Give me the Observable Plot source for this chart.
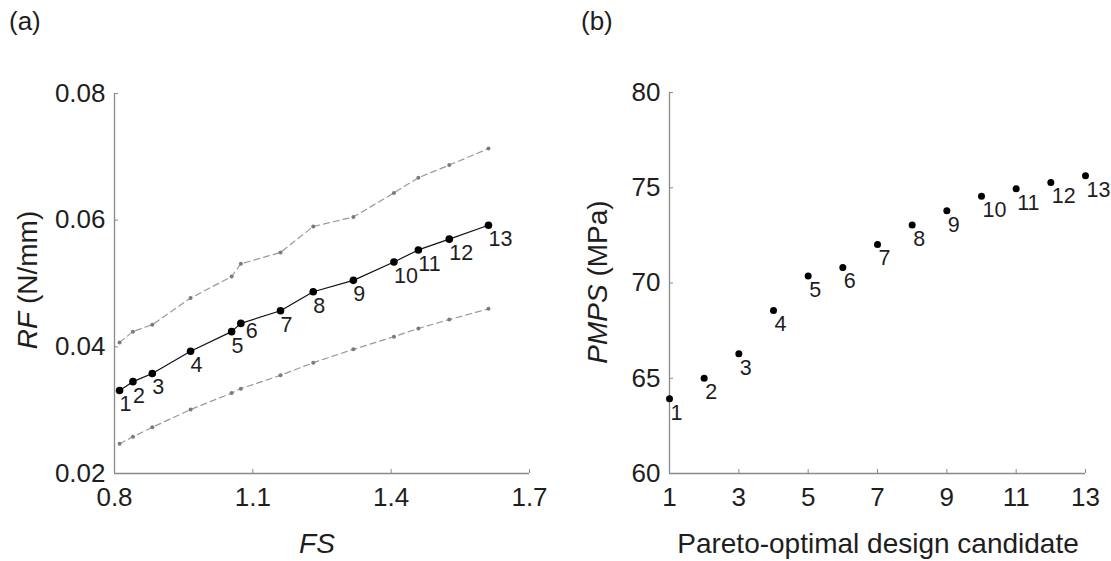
<!DOCTYPE html>
<html>
<head>
<meta charset="utf-8">
<script src="https://cdn.jsdelivr.net/npm/d3@7"></script>
<script src="https://cdn.jsdelivr.net/npm/@observablehq/plot@0.6"></script>
<style>
  html, body { margin: 0; padding: 0; background: #fff; }
  #wrap { position: relative; width: 1111px; height: 561px; font-family: "Liberation Sans", Arial, sans-serif; color: #1e1e1e; overflow: hidden; }
  .pane { position: absolute; top: 0; }
  .lbl { position: absolute; white-space: nowrap; line-height: 1; }
</style>
</head>
<body>
<div id="wrap">
  <div class="lbl" style="left:9px;top:8px;font-size:26px;">(a)</div>
  <div class="lbl" style="left:581px;top:8px;font-size:26px;">(b)</div>
  <div class="lbl" style="left:28px;top:280px;font-size:28px;transform:translate(-50%,-50%) rotate(-90deg);"><i>RF</i> (N/mm)</div>
  <div class="lbl" style="left:598px;top:282px;font-size:28px;transform:translate(-50%,-50%) rotate(-90deg);"><i>PMPS</i> (MPa)</div>
  <div class="lbl" style="left:317px;top:530px;font-size:28px;transform:translateX(-50%);"><i>FS</i></div>
  <div class="lbl" style="left:878px;top:530px;font-size:28px;transform:translateX(-50%);">Pareto-optimal design candidate</div>
  <div id="pa" class="pane" style="left:0px;"></div>
  <div id="pb" class="pane" style="left:555px;"></div>
</div>
<script>
// Panel (a): RF vs FS for the 13 Pareto-optimal candidates
const candidates = [1, 2, 3, 4, 5, 6, 7, 8, 9, 10, 11, 12, 13];
const fs      = [0.811, 0.840, 0.882, 0.965, 1.054, 1.074, 1.160, 1.231, 1.318, 1.406, 1.459, 1.526, 1.611];
const rf      = [0.0331, 0.0345, 0.0358, 0.0393, 0.0424, 0.0437, 0.0457, 0.0487, 0.0505, 0.0534, 0.0553, 0.0570, 0.0592];
const rfUpper = [0.0407, 0.0424, 0.0435, 0.0477, 0.0511, 0.0531, 0.0549, 0.0590, 0.0605, 0.0643, 0.0667, 0.0687, 0.0713];
const rfLower = [0.0247, 0.0258, 0.0273, 0.0301, 0.0327, 0.0334, 0.0355, 0.0375, 0.0396, 0.0416, 0.0429, 0.0443, 0.0460];
const fsTicks = [0.8, 1.1, 1.4, 1.7];
const rfTicks = [0.02, 0.04, 0.06, 0.08];

// Panel (b): PMPS per candidate
const pmps = [63.93, 65.00, 66.29, 68.56, 70.37, 70.82, 72.02, 73.04, 73.79, 74.56, 74.95, 75.28, 75.63];
const candTicks = [1, 3, 5, 7, 9, 11, 13];
const pmpsTicks = [60, 65, 70, 75, 80];

const AXIS = "#8a8a8a";
const TEXT = "#1e1e1e";
const FONT = "'Liberation Sans', Arial, sans-serif";

const rowsA = candidates.map((c, i) => ({c, fs: fs[i], rf: rf[i], up: rfUpper[i], lo: rfLower[i],
  crowded: i > 0 && fs[i] - fs[i - 1] < 0.025}));
const rowsB = candidates.map((c, i) => ({c, p: pmps[i]}));

const commonStyle = {fontFamily: FONT, fontSize: "26px", color: TEXT, background: "transparent", overflow: "visible"};

const plotA = Plot.plot({
  width: 555, height: 561,
  marginLeft: 114, marginRight: 26, marginTop: 93, marginBottom: 88,
  style: commonStyle,
  x: {domain: [0.8, 1.7]},
  y: {domain: [0.02, 0.08]},
  marks: [
    Plot.ruleX([0.8], {stroke: AXIS, strokeWidth: 1.3}),
    Plot.ruleY([0.02], {stroke: AXIS, strokeWidth: 1.3}),
    Plot.axisX(fsTicks, {tickSize: -4, tickPadding: 18, stroke: AXIS, fill: TEXT, label: null, tickFormat: d3.format(".1f"), fontSize: 26}),
    Plot.axisY(rfTicks, {tickSize: -4, tickPadding: 13, stroke: AXIS, fill: TEXT, label: null, tickFormat: d3.format(".2f"), fontSize: 26}),
    Plot.line(rowsA, {x: "fs", y: "up", stroke: "#9a9a9a", strokeWidth: 1.2, strokeDasharray: "6,4"}),
    Plot.line(rowsA, {x: "fs", y: "lo", stroke: "#9a9a9a", strokeWidth: 1.2, strokeDasharray: "6,4"}),
    Plot.dot(rowsA, {x: "fs", y: "up", r: 2, fill: "#7a7a7a"}),
    Plot.dot(rowsA, {x: "fs", y: "lo", r: 2, fill: "#7a7a7a"}),
    Plot.line(rowsA, {x: "fs", y: "rf", stroke: "#111", strokeWidth: 1.2}),
    Plot.dot(rowsA, {x: "fs", y: "rf", r: 3.8, fill: "#000"}),
    Plot.text(rowsA.filter(d => !d.crowded), {x: "fs", y: "rf", text: d => String(d.c), textAnchor: "start", dx: 0, dy: 14, fontSize: 21.5, fill: TEXT}),
    Plot.text(rowsA.filter(d => d.crowded), {x: "fs", y: "rf", text: d => String(d.c), textAnchor: "start", dx: 5, dy: 8, fontSize: 21.5, fill: TEXT})
  ]
});
document.getElementById("pa").appendChild(plotA);

const plotB = Plot.plot({
  width: 556, height: 561,
  marginLeft: 114, marginRight: 26, marginTop: 92, marginBottom: 88,
  style: commonStyle,
  x: {domain: [1, 13]},
  y: {domain: [60, 80]},
  marks: [
    Plot.ruleX([1], {stroke: AXIS, strokeWidth: 1.3}),
    Plot.ruleY([60], {stroke: AXIS, strokeWidth: 1.3}),
    Plot.axisX(candTicks, {tickSize: -4, tickPadding: 18, stroke: AXIS, fill: TEXT, label: null, fontSize: 26}),
    Plot.axisY(pmpsTicks, {tickSize: -4, tickPadding: 13, stroke: AXIS, fill: TEXT, label: null, fontSize: 26}),
    Plot.dot(rowsB, {x: "c", y: "p", r: 3.5, fill: "#000"}),
    Plot.text(rowsB, {x: "c", y: "p", text: d => String(d.c), textAnchor: "start", dx: 1, dy: 14, fontSize: 21.5, fill: TEXT})
  ]
});
document.getElementById("pb").appendChild(plotB);
</script>
</body>
</html>
